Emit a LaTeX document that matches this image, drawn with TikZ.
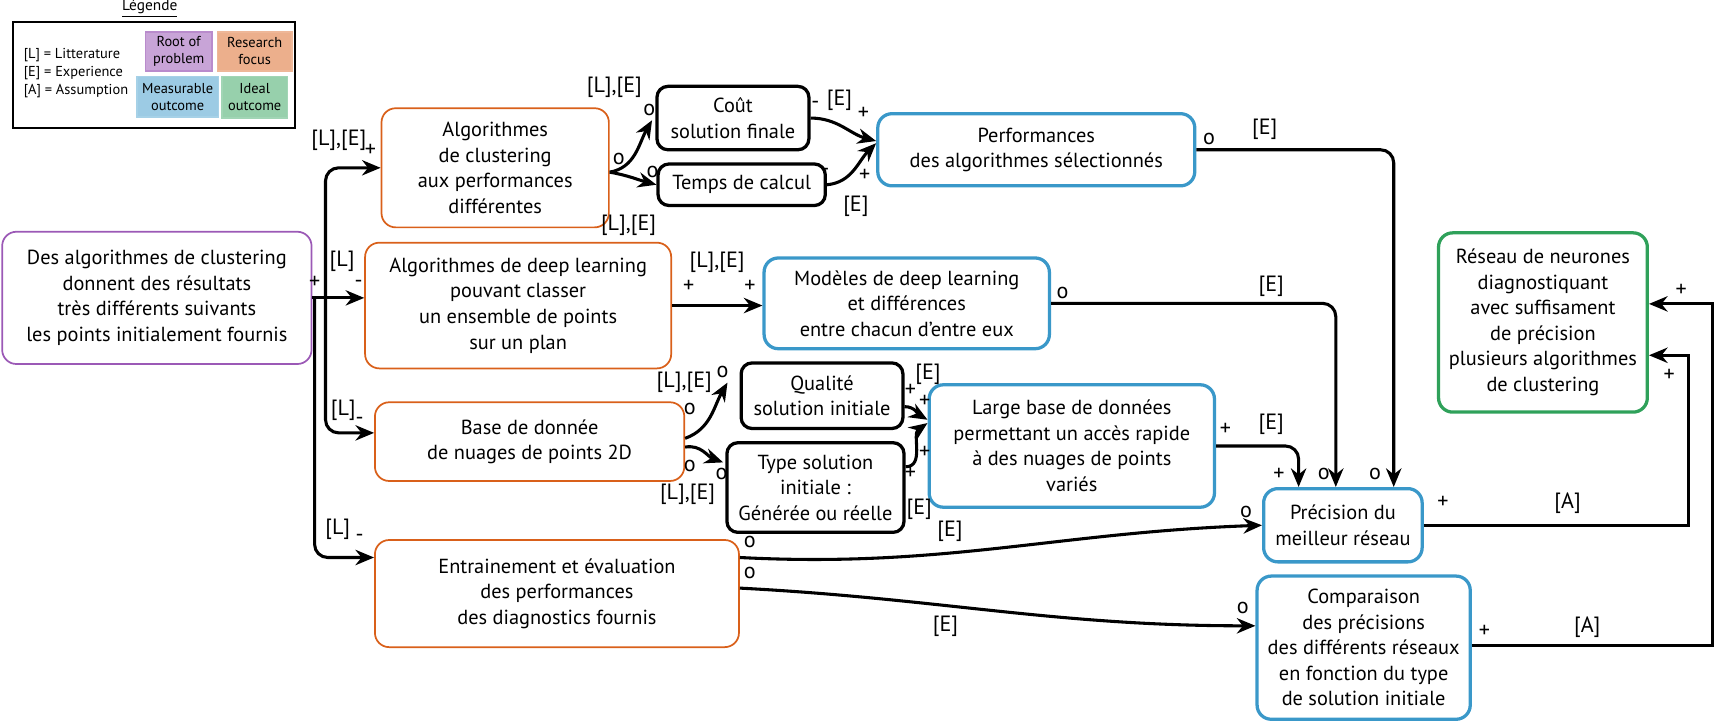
\documentclass[tikz,border=0pt]{standalone}
\usepackage{fontspec}
\setmainfont{PT Sans}
\usepackage{tikz}
\usetikzlibrary{arrows.meta,positioning,calc}
\definecolor{rootcol}{HTML}{9B59B6}
\definecolor{focuscol}{HTML}{D9601A}
\definecolor{meascol}{HTML}{3A98C9}
\definecolor{idealcol}{HTML}{2FA15A}
\tikzstyle{boxbase}=[rounded corners=2.6mm, align=center, inner sep=1pt, font=\fontsize{10.6}{13.3}\selectfont]
\tikzstyle{rootbox}=[boxbase, draw=rootcol, line width=0.9pt]
\tikzstyle{focusbox}=[boxbase, draw=focuscol, line width=0.9pt]
\tikzstyle{measbox}=[boxbase, draw=meascol, line width=1.7pt]
\tikzstyle{idealbox}=[boxbase, draw=idealcol, line width=1.7pt]
\tikzstyle{factbox}=[boxbase, draw=black, line width=1.7pt, rounded corners=2mm]
\tikzstyle{lab}=[font=\fontsize{11.5}{12}\selectfont, inner sep=0pt]
\tikzstyle{arr}=[-{Stealth[length=3.4mm,width=2.8mm]}, line width=1.6pt]
\tikzstyle{key}=[line width=0.9pt, align=center, inner sep=0pt, font=\fontsize{7.5}{8.8}\selectfont]

\begin{document}
\begin{tikzpicture}[x=0.2mm, y=-0.2mm]
      \useasboundingbox (0,0) rectangle (1568,660);
      % legende
      \node at (137,8) [key, font=\fontsize{8}{9}\selectfont] (legtitle) {\underline{Légende}};
      \node at (141,68.5) [draw, line width=1.1pt, minimum width=51.6mm, minimum height=19.4mm] (legframe) {};
      \node at (21,67) [key, anchor=west, align=left, font=\fontsize{7.5}{9.4}\selectfont] (legtext) {[L] = Litterature\\{}[E] = Experience\\{}[A] = Assumption};
      \node at (163.5,47) [key, draw=rootcol!70, fill=rootcol!55, minimum width=12.2mm, minimum height=7.2mm] (keyroot) {Root of\\problem};
      \node at (233,47) [key, draw=focuscol!45, fill=focuscol!50, minimum width=13.6mm, minimum height=7.2mm] (keyfocus) {Research\\focus};
      \node at (162.5,88.5) [key, draw=meascol!45, fill=meascol!50, minimum width=15mm, minimum height=7.4mm] (keymeas) {Measurable\\outcome};
      \node at (233,89) [key, draw=idealcol!45, fill=idealcol!50, minimum width=12mm, minimum height=7.6mm] (keyideal) {Ideal\\outcome};
      %
      \node at (143.5,272.5) [rootbox, minimum width=56.6mm, minimum height=24.2mm] (root) {Des algorithmes de clustering\\donnent des résultats\\très différents suivants\\les points initialement fournis};
      \node at (453,153.5) [focusbox, minimum width=41.6mm, minimum height=21.8mm] (clus) {Algorithmes\\de clustering\\aux performances\\différentes};
      \node at (474,279.5) [focusbox, minimum width=56mm, minimum height=23mm] (deep) {Algorithmes de deep learning\\pouvant classer\\un ensemble de points\\sur un plan};
      \node at (484.5,404) [focusbox, minimum width=56.6mm, minimum height=14.4mm] (base) {Base de donnée\\de nuages de points 2D};
      \node at (509.5,543) [focusbox, minimum width=66.6mm, minimum height=19.6mm] (train) {Entrainement et évaluation\\des performances\\des diagnostics fournis};
      %
      \node at (670.5,108) [factbox, minimum width=27.8mm, minimum height=11.6mm] (cout) {Coût\\solution finale};
      \node at (678.5,169) [factbox, minimum width=30.6mm, minimum height=7.6mm] (temps) {Temps de calcul};
      \node at (752,362) [factbox, minimum width=29.6mm, minimum height=12mm] (qualite) {Qualité\\solution initiale};
      \node at (746,446) [factbox, minimum width=32.4mm, minimum height=16.4mm] (type) {Type solution\\initiale :\\Générée ou réelle};
      %
      \node at (948,137) [measbox, minimum width=58mm, minimum height=13.2mm] (perf) {Performances\\des algorithmes sélectionnés};
      \node at (829.5,277.5) [measbox, minimum width=52.2mm, minimum height=16.6mm] (modeles) {Modèles de deep learning\\et différences\\entre chacun d’entre eux};
      \node at (980.5,408) [measbox, minimum width=52.2mm, minimum height=22.4mm] (large) {Large base de données\\permettant un accès rapide\\à des nuages de points\\variés};
      \node at (1228.5,480.5) [measbox, minimum width=29mm, minimum height=13.4mm] (precision) {Précision du\\meilleur réseau};
      \node at (1247.5,592.5) [measbox, minimum width=39mm, minimum height=26.2mm] (comparaison) {Comparaison\\des précisions\\des différents réseaux\\en fonction du type\\de solution initiale};
      \node at (1411.5,295) [idealbox, minimum width=38.2mm, minimum height=32.8mm] (reseau) {Réseau de neurones\\diagnostiquant\\avec suffisament\\de précision\\plusieurs algorithmes\\de clustering};
      %
      \draw[arr] (root.east) -- (root.east -| deep.west);
      \draw[arr, rounded corners=2.4mm] ($(root.east)+(12,0)$) |- (clus.west);
      \draw[arr, rounded corners=2.4mm] ($(root.east)+(12,0)$) |- ($(base.west)+(0,-8)$);
      \draw[arr, rounded corners=2.4mm] ($(root.east)+(2,0)$) |- ($(train.west)+(0,-33)$);
      %
      \draw[arr] ($(clus.east)+(0,4)$) to[out=10, in=240] ($(cout.west)+(-3,2)$);
      \draw[arr] ($(clus.east)+(0,4)$) to[out=-10, in=165] (temps.west);
      \draw[arr] (cout.east) to[out=0, in=165] ($(perf.west)+(0,-8)$);
      \draw[arr] (temps.east) to[out=5, in=225] ($(perf.west)+(0,-6)$);
      \draw[arr] (deep.east) -- (deep.east -| modeles.west);
      \draw[arr] ($(base.east)+(0,-3)$) to[out=20, in=240] ($(qualite.west)+(-11,-12)$);
      \draw[arr] ($(base.east)+(0,5)$) to[out=10, in=160] ($(type.west)+(-2,-23)$);
      \draw[arr] ($(qualite.east)+(0,10)$) to[out=0, in=150] ($(large.west)+(0,-24)$);
      \draw[arr] ($(type.east)+(0,-19)$) to[out=0, in=215] ($(large.west)+(0,-21)$);
      %
      \draw[arr, rounded corners=2.4mm] (perf.east) -| ($(precision.north)+(46.5,0)$);
      \draw[arr, rounded corners=2.4mm] (modeles.east) -| ($(precision.north)+(-6.5,0)$);
      \draw[arr, rounded corners=2.4mm] (large.east) -| ($(precision.north)+(-40.5,0)$);
      \draw[arr] ($(train.east)+(0,-33)$) to[out=-3, in=182] (precision.west);
      \draw[arr] ($(train.east)+(0,-5)$) to[out=-3, in=180] ($(comparaison.west)+(0,-20)$);
      \draw[arr] (precision.east) -| ($(reseau.east)+(36,30)$) -- ($(reseau.east)+(0,30)$);
      \draw[arr] ($(comparaison.east)+(0,-2)$) -| ($(reseau.east)+(58,-17)$) -- ($(reseau.east)+(0,-17)$);
      %
      \foreach \x/\y/\t [count=\i] in {288/258/+, 310/128/{[L],[E]}, 339/138/+, 313/239/{[L]}, 328/260/-,
          314/375/{[L]}, 329/385/-, 309/484/{[L]}, 329/492/-,
          562/80/{[L],[E]}, 594/101/o, 566/145/o, 597/157/o, 575/206/{[L],[E]},
          746/96/-, 768/92/{[E]}, 790/104/+, 755/157/-, 791/160/+, 783/189/{[E]},
          1106/127/o, 1157/118/{[E]}, 1258/434/o,
          656/240/{[L],[E]}, 630/262/+, 686/262/+,
          972/268/o, 1163/262/{[E]}, 1211/434/o,
          626/350/{[L],[E]}, 661/340/o, 631/374/o, 631/426/o, 660/434/o, 629/452/{[L],[E]},
          849/342/{[E]}, 833/357/+, 846/367/+, 846/414/+, 833/433/+, 841/466/{[E]},
          1121/393/+, 1163/388/{[E]}, 1170/434/+,
          686/496/o, 869/486/{[E]}, 1140/468/o, 686/524/o, 865/573/{[E]}, 1137/556/o,
          1320/460/+, 1434/460/{[A]}, 1527/343/+, 1358/578/+, 1452/574/{[A]}, 1538/266/+}
        \node at (\x,\y) [lab] (lab\i) {\t};
\end{tikzpicture}
\end{document}
